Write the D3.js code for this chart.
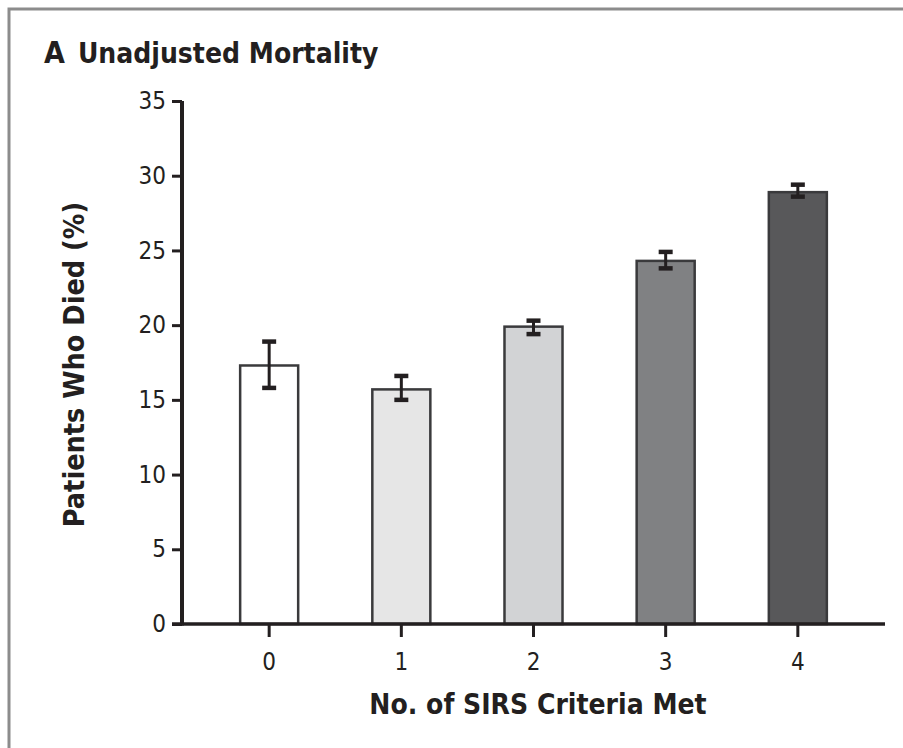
<!DOCTYPE html>
<html>
<head>
<meta charset="utf-8">
<script src="https://cdn.jsdelivr.net/npm/d3@7"></script>
<style>
  html, body { margin: 0; padding: 0; background: #fff; }
  svg { display: block; }
  .lbl { font-family: "Liberation Sans Narrow", "DejaVu Sans Condensed", "Liberation Sans", sans-serif; fill: #231f20; }
  .ttl { font-family: "Liberation Sans Narrow", "DejaVu Sans Condensed", "Liberation Sans", sans-serif; font-weight: bold; fill: #231f20; }
</style>
</head>
<body>
<script>
// Mortality by number of SIRS criteria met
const categories = ["0", "1", "2", "3", "4"];
const mortality  = [17.3, 15.7, 19.9, 24.3, 28.9];
const ciLow      = [15.8, 15.0, 19.4, 23.8, 28.6];
const ciHigh     = [18.9, 16.6, 20.3, 24.9, 29.4];
const barFills   = ["#ffffff", "#e6e6e6", "#d2d3d5", "#808183", "#58585a"];
const yTicks     = [0, 5, 10, 15, 20, 25, 30, 35];

const W = 903, H = 748;
const ink = "#231f20";

const svg = d3.select("body").append("svg")
  .attr("width", W).attr("height", H);

// panel frame (top and left edges)
svg.append("path")
  .attr("d", `M9,${H} V9 H${W}`)
  .attr("fill", "none")
  .attr("stroke", "#8c8c8c")
  .attr("stroke-width", 3);

// panel title
const title = svg.append("text").attr("class", "ttl")
  .attr("x", 44).attr("y", 63)
  .attr("font-size", 30);
title.append("tspan").text("A");
title.append("tspan").attr("dx", 13).attr("font-size", 28).text("Unadjusted Mortality");

const x0 = 182, x1 = 885, yTop = 101, yBase = 624;

const x = d3.scaleBand()
  .domain(categories)
  .range([x0, x1])
  .paddingInner(0.561)
  .paddingOuter(0.44);

const y = d3.scaleLinear()
  .domain([0, 35])
  .range([yBase, yTop]);

// bars
svg.append("g").selectAll("rect")
  .data(categories)
  .join("rect")
  .attr("x", d => x(d))
  .attr("width", x.bandwidth())
  .attr("y", (d, i) => y(mortality[i]))
  .attr("height", (d, i) => yBase - y(mortality[i]))
  .attr("fill", (d, i) => barFills[i])
  .attr("stroke", "#3a3a3c")
  .attr("stroke-width", 2.5);

// error bars
const eb = svg.append("g").attr("stroke", ink);
categories.forEach((d, i) => {
  const cx = x(d) + x.bandwidth() / 2;
  eb.append("line")
    .attr("x1", cx).attr("x2", cx)
    .attr("y1", y(ciLow[i])).attr("y2", y(ciHigh[i]))
    .attr("stroke-width", 3);
  [ciLow[i], ciHigh[i]].forEach(v => {
    eb.append("line")
      .attr("x1", cx - 7).attr("x2", cx + 7)
      .attr("y1", y(v)).attr("y2", y(v))
      .attr("stroke-width", 4.5);
  });
});

// y axis
const yAxis = svg.append("g")
  .attr("transform", `translate(${x0},0)`)
  .call(d3.axisLeft(y).tickValues(yTicks).tickSize(10).tickSizeOuter(0).tickPadding(6));
yAxis.select(".domain").attr("stroke", ink).attr("stroke-width", 4)
  .attr("d", `M0,${yTop}V${yBase + 1.5}`);
yAxis.selectAll(".tick line").attr("stroke", ink).attr("stroke-width", 3);
yAxis.selectAll(".tick text").attr("class", "lbl").attr("font-size", 24);

// x axis
const xAxis = svg.append("g")
  .attr("transform", `translate(0,${yBase})`)
  .call(d3.axisBottom(x).tickSize(13).tickSizeOuter(0).tickPadding(16));
xAxis.select(".domain").attr("stroke", ink).attr("stroke-width", 3.5)
  .attr("d", `M${x0 - 10},0H${x1}`);
xAxis.selectAll(".tick line").attr("stroke", ink).attr("stroke-width", 3);
xAxis.selectAll(".tick text").attr("class", "lbl").attr("font-size", 24);

// axis titles
svg.append("text").attr("class", "ttl")
  .attr("x", 538).attr("y", 714)
  .attr("text-anchor", "middle")
  .attr("font-size", 28)
  .text("No. of SIRS Criteria Met");

svg.append("text").attr("class", "ttl")
  .attr("transform", `translate(84,${(yTop + yBase) / 2 + 2}) rotate(-90)`)
  .attr("text-anchor", "middle")
  .attr("font-size", 28.5)
  .text("Patients Who Died (%)");
</script>
</body>
</html>
